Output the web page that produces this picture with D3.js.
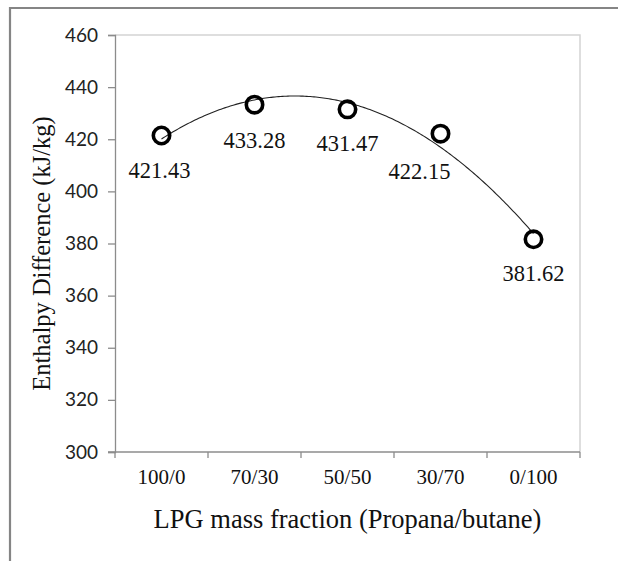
<!DOCTYPE html>
<html><head><meta charset="utf-8">
<script src="https://cdn.jsdelivr.net/npm/d3@7"></script>
<style>html,body{margin:0;padding:0;background:#fff;}</style>
</head><body>
<script>
const categories = ["100/0", "70/30", "50/50", "30/70", "0/100"];
const enthalpy = [421.43, 433.28, 431.47, 422.15, 381.62];
const pointLabels = ["421.43", "433.28", "431.47", "422.15", "381.62"];
const yTicks = [300, 320, 340, 360, 380, 400, 420, 440, 460];
const xTitle = "LPG mass fraction (Propana/butane)";
const yTitle = "Enthalpy Difference (kJ/kg)";

const W = 618, H = 561;
const m = {left: 115, right: 580, top: 35, bottom: 452};
const svg = d3.select("body").append("svg").attr("width", W).attr("height", H);
svg.append("rect").attr("width", W).attr("height", H).attr("fill", "#fff");

// outer frame
svg.append("path").attr("d", `M10,${H+5} L10,8 L${W+5},8`).attr("fill", "none")
  .attr("stroke", "#858585").attr("stroke-width", 2.2);

const x = d3.scaleBand().domain(categories).range([m.left, m.right]).padding(0);
const y = d3.scaleLinear().domain([300, 460]).range([m.bottom, m.top]);

// plot border (top, right)
svg.append("path").attr("d", `M${m.left},${m.top} H${m.right} V${m.bottom}`)
  .attr("fill", "none").attr("stroke", "#d4d4d4").attr("stroke-width", 1.5);

// y axis
const yAxis = d3.axisLeft(y).tickValues(yTicks).tickSize(7).tickPadding(10).tickFormat(d3.format("d"));
const gy = svg.append("g").attr("transform", `translate(${m.left},0)`).call(yAxis);
gy.select(".domain").attr("stroke", "#8c8c8c").attr("stroke-width", 1.3);
gy.selectAll(".tick line").attr("stroke", "#8c8c8c").attr("stroke-width", 1.3);
gy.selectAll(".tick text").attr("font-family", "Lato, 'Open Sans', sans-serif").attr("font-size", 19).attr("fill", "#222");

// x axis
const xAxis = d3.axisBottom(x).tickSize(0).tickPadding(17);
const gx = svg.append("g").attr("transform", `translate(0,${m.bottom})`).call(xAxis);
gx.select(".domain").remove();
gx.append("line").attr("x1", m.left - 7).attr("x2", m.right).attr("y1", 0).attr("y2", 0)
  .attr("stroke", "#8c8c8c").attr("stroke-width", 1.3);
const bounds = categories.map(c => x(c)).concat([x(categories[categories.length-1]) + x.bandwidth()]);
gx.selectAll(".bnd").data(bounds).enter().append("line")
  .attr("x1", d => d).attr("x2", d => d).attr("y1", 0).attr("y2", 6)
  .attr("stroke", "#8c8c8c").attr("stroke-width", 1.3);
gx.selectAll(".tick text").attr("font-family", "'Liberation Serif', 'Times New Roman', serif")
  .attr("font-size", 21).attr("fill", "#111");

// titles
svg.append("text").attr("x", (m.left + m.right) / 2).attr("y", 528).attr("text-anchor", "middle")
  .attr("font-family", "'Liberation Serif', 'Times New Roman', serif").attr("font-size", 26.5).attr("fill", "#111")
  .text(xTitle);
svg.append("text").attr("transform", `translate(50,${(m.top + m.bottom) / 2 + 10}) rotate(-90)`)
  .attr("text-anchor", "middle")
  .attr("font-family", "'Liberation Serif', 'Times New Roman', serif").attr("font-size", 24.5).attr("fill", "#111")
  .text(yTitle);

// quadratic least-squares trendline through the data
const n = enthalpy.length;
const xs = d3.range(1, n + 1);
const sx = d3.sum(xs), sx2 = d3.sum(xs, v => v*v), sx3 = d3.sum(xs, v => v**3), sx4 = d3.sum(xs, v => v**4);
const sy = d3.sum(enthalpy), sxy = d3.sum(xs, (v,i) => v*enthalpy[i]), sx2y = d3.sum(xs, (v,i) => v*v*enthalpy[i]);
function solve3(A, b) {
  const M = A.map((r,i) => r.concat([b[i]]));
  for (let i = 0; i < 3; i++) {
    for (let k = i + 1; k < 3; k++) {
      const f = M[k][i] / M[i][i];
      for (let j = i; j < 4; j++) M[k][j] -= f * M[i][j];
    }
  }
  const s = [0,0,0];
  for (let i = 2; i >= 0; i--) {
    let v = M[i][3];
    for (let j = i + 1; j < 3; j++) v -= M[i][j] * s[j];
    s[i] = v / M[i][i];
  }
  return s;
}
const coef = solve3([[n, sx, sx2],[sx, sx2, sx3],[sx2, sx3, sx4]], [sy, sxy, sx2y]);
const xPos = i => x(categories[0]) + x.bandwidth()/2 + (i - 1) * x.bandwidth();
const curve = d3.range(1, n + 0.001, 0.02).map(t => [xPos(t), y(coef[0] + coef[1]*t + coef[2]*t*t)]);
svg.append("path").attr("d", d3.line()(curve)).attr("fill", "none").attr("stroke", "#222").attr("stroke-width", 1.1);

// points
const cx = (d, i) => x(categories[i]) + x.bandwidth() / 2;
svg.selectAll(".pt").data(enthalpy).enter().append("circle")
  .attr("cx", cx).attr("cy", d => y(d)).attr("r", 8.2)
  .attr("fill", "none").attr("stroke", "#000").attr("stroke-width", 3.6);

// data labels
const labelShift = [[-2, 42], [0, 43], [0, 42], [-21, 45], [0, 42]];
svg.selectAll(".lbl").data(enthalpy).enter().append("text")
  .attr("x", (d, i) => cx(d, i) + labelShift[i][0]).attr("y", (d, i) => y(d) + labelShift[i][1])
  .attr("text-anchor", "middle")
  .attr("font-family", "'Liberation Serif', 'Times New Roman', serif").attr("font-size", 22.5).attr("fill", "#111")
  .text((d, i) => pointLabels[i]);
</script>
</body></html>
